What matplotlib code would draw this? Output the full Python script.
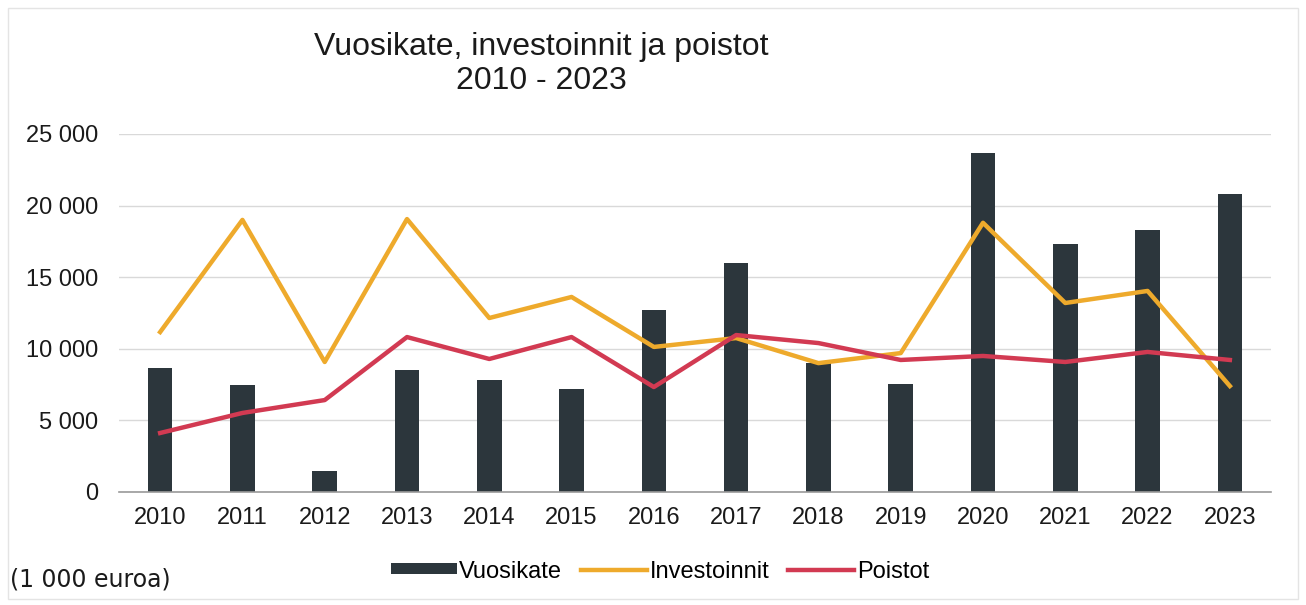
import numpy as np
import matplotlib.pyplot as plt
from matplotlib.patches import Rectangle
from matplotlib.ticker import FuncFormatter

# Values in 1 000 euros
years = ['2010', '2011', '2012', '2013', '2014', '2015', '2016',
         '2017', '2018', '2019', '2020', '2021', '2022', '2023']
vuosikate = [8660, 7470, 1470, 8520, 7820, 7190, 12710,
             15990, 9000, 7540, 23670, 17320, 18300, 20810]
investoinnit = [11170, 19000, 9080, 19060, 12150, 13620, 10130,
                10750, 9000, 9700, 18800, 13200, 14040, 7400]
poistot = [4120, 5520, 6420, 10820, 9290, 10820, 7330,
           10960, 10400, 9220, 9500, 9080, 9780, 9220]

plt.rcParams['font.family'] = ['Liberation Sans', 'DejaVu Sans']

fig = plt.figure(figsize=(13.06, 6.05), dpi=100)
ax = fig.add_axes([119 / 1306, 1 - 492 / 605, 1152 / 1306, 358 / 605])

x = np.arange(len(years))
bars = ax.bar(x, vuosikate, width=0.3, color='#2c363c', label='Vuosikate', zorder=2)
l_inv, = ax.plot(x, investoinnit, color='#eeaa2c', linewidth=3.2, label='Investoinnit', zorder=3)
l_poi, = ax.plot(x, poistot, color='#d23a52', linewidth=3.2, label='Poistot', zorder=4)

ax.set_xlim(-0.5, len(years) - 0.5)
ax.set_ylim(0, 25000)
ax.set_yticks(range(0, 25001, 5000))
ax.yaxis.set_major_formatter(FuncFormatter(lambda v, p: f'{int(v):,}'.replace(',', ' ')))
ax.set_xticks(x)
ax.set_xticklabels(years)
ax.tick_params(axis='both', length=0, labelsize=17, colors='#1a1a1a')
ax.tick_params(axis='y', pad=15)
ax.tick_params(axis='x', pad=11)

ax.grid(axis='y', color='#d9d9d9', linewidth=1)
ax.set_axisbelow(True)
for s in ['top', 'right', 'left']:
    ax.spines[s].set_visible(False)
ax.spines['bottom'].set_color('#9a9a9a')
ax.spines['bottom'].set_linewidth(1.2)

fig.text(541 / 1306, 1 - 64 / 605, 'Vuosikate, investoinnit ja poistot\n2010 - 2023',
         ha='center', va='center', fontsize=23, linespacing=1.15, color='#1a1a1a')

leg = fig.legend([bars, l_inv, l_poi], ['Vuosikate', 'Investoinnit', 'Poistot'],
                 loc='center', bbox_to_anchor=(660 / 1306, 1 - 572 / 605), ncol=3,
                 frameon=False, fontsize=17, handlelength=2.8, handletextpad=0.1,
                 columnspacing=0.8)
for h in leg.legend_handles:
    if isinstance(h, Rectangle):
        h.set_height(8)
        h.set_y(h.get_y() + 3)

fig.text(10 / 1306, 1 - 580 / 605, '(1 000 euroa)', ha='left', va='center',
         fontsize=17, color='#1a1a1a', family='DejaVu Sans')

# faint frame from the scanned original
fig.patches.append(Rectangle((8 / 1306, 0.01), 1 - 16 / 1306, 1 - 8 / 605 - 0.01,
                             transform=fig.transFigure, fill=False,
                             edgecolor='#e4e4e4', linewidth=1))

fig.savefig('out.png', dpi=100)
